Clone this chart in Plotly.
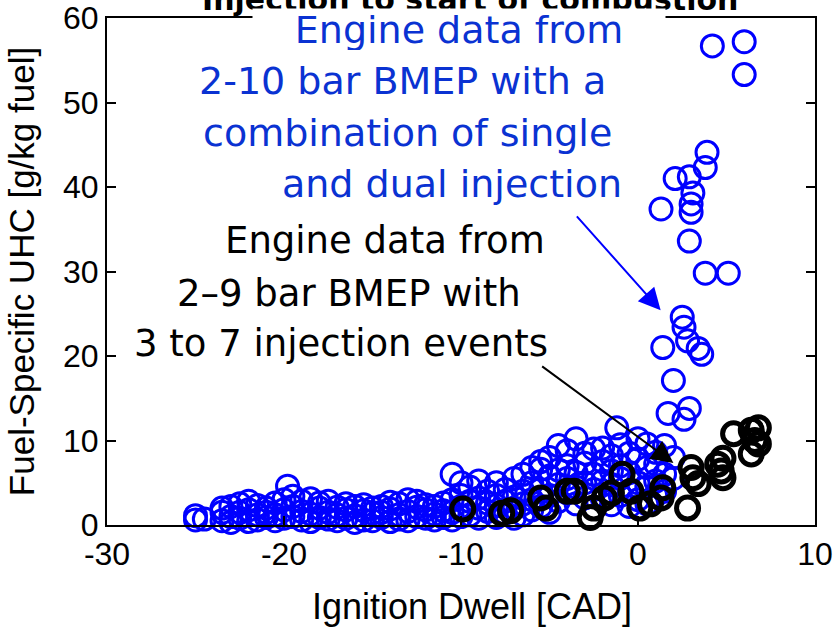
import plotly.graph_objects as go

# ---- data ----
blue_x = [
    -25.0, -25.0, -24.5, -23.5, -23.5, -23.5, -23.0, -23.0, -23.0, -22.5, -22.5, -22.5,
    -22.0, -22.0, -22.0, -21.5, -21.5, -21.5, -21.0, -21.0, -21.0, -20.5, -20.5, -20.5,
    -20.0, -20.0, -20.0, -19.8, -19.5, -19.5, -19.5, -19.0, -19.0, -19.0, -18.5, -18.5, -18.5,
    -18.0, -18.0, -18.0, -17.5, -17.5, -17.5, -17.0, -17.0, -17.0, -16.5, -16.5, -16.5,
    -16.0, -16.0, -16.0, -15.5, -15.5, -15.5, -15.0, -15.0, -15.0, -14.5, -14.5, -14.5,
    -14.0, -14.0, -14.0, -13.5, -13.5, -13.5, -13.0, -13.0, -13.0, -12.5, -12.5, -12.5,
    -12.0, -12.0, -12.0, -11.5, -11.5, -11.5, -11.0, -11.0, -11.0,
    -10.5, -10.5, -10.5, -10.5, -10.0, -10.0, -10.0, -10.0, -9.5, -9.5, -9.5,
    -9.0, -9.0, -9.0, -9.0, -8.5, -8.5, -8.5, -8.0, -8.0, -8.0, -8.0, -7.5, -7.5, -7.5,
    -7.0, -7.0, -7.0, -7.0, -6.5, -6.5, -6.5, -6.5, -6.0, -6.0, -6.0, -6.0,
    -5.5, -5.5, -5.5, -5.5, -5.0, -5.0, -5.0, -5.0, -4.5, -4.5, -4.5, -4.5,
    -4.0, -4.0, -4.0, -4.0, -3.5, -3.5, -3.5, -3.5, -3.0, -3.0, -3.0, -3.0,
    -2.5, -2.5, -2.5, -2.5, -2.0, -2.0, -2.0, -2.0, -1.5, -1.5, -1.5, -1.5,
    -1.0, -1.0, -1.0, -1.0, -0.5, -0.5, -0.5, -0.5, 0.0, 0.0, 0.0, 0.0,
    0.5, 0.5, 0.5, 0.5, 1.0, 1.0, 1.0, 1.0, 1.5, 1.5, 1.5, 2.0, 2.0,
    -1.2, 4.2, 6.0, 6.0, 3.9, 3.8, 2.1, 2.9, 3.1, 3.0, 3.0, 1.3, 2.9, 3.8, 5.1,
    2.5, 2.6, 2.8, 1.4, 3.4, 3.6, 2.0, 1.7, 2.9, 2.6,
]
blue_y = [
    1.1, 0.6, 0.7, 1.5, 0.5, 2.0, 1.0, 2.2, 0.3, 1.5, 0.8, 2.5,
    0.4, 1.8, 2.8, 1.2, 0.6, 2.3, 2.0, 0.9, 1.5, 0.5, 2.6, 1.2,
    1.8, 3.0, 0.8, 4.6, 2.2, 1.0, 3.4, 0.6, 2.8, 1.6, 1.3, 3.1, 0.4,
    2.0, 0.9, 2.6, 1.5, 2.8, 0.7, 0.5, 2.1, 1.2, 1.8, 0.8, 2.5,
    1.1, 2.2, 0.3, 0.6, 1.7, 2.4, 1.4, 0.5, 2.0, 2.2, 0.9, 1.5,
    0.4, 1.9, 2.7, 1.2, 2.5, 0.7, 1.6, 0.5, 3.0, 2.1, 1.0, 2.8,
    0.8, 1.8, 2.4, 1.3, 0.6, 2.2, 0.9, 2.6, 1.7,
    1.5, 3.0, 0.6, 6.0, 2.2, 1.0, 3.5, 5.0, 1.2, 2.8, 4.5,
    0.8, 3.2, 2.0, 5.2, 1.6, 4.0, 2.6, 2.3, 0.9, 3.5, 5.0, 1.4, 4.2, 2.8,
    2.0, 5.5, 3.3, 0.8, 6.0, 2.5, 4.0, 1.2, 3.0, 5.0, 1.8, 6.8,
    6.6, 4.2, 2.2, 7.5, 3.5, 5.8, 1.5, 8.0, 9.4, 4.8, 2.8, 6.5,
    3.8, 7.0, 5.5, 8.8, 10.2, 4.5, 6.2, 2.5, 8.5, 5.0, 3.2, 7.3,
    9.0, 6.0, 4.2, 2.0, 9.1, 7.5, 5.2, 3.0, 8.2, 6.4, 4.8, 2.4,
    9.5, 7.0, 5.5, 3.5, 8.5, 6.2, 4.0, 2.2, 10.2, 7.8, 5.0, 3.0,
    9.6, 6.8, 4.5, 2.5, 8.6, 7.2, 5.2, 3.5, 9.4, 6.0, 4.0, 8.0, 5.5,
    11.5, 56.7, 57.2, 53.3, 44.1, 42.3, 41.0, 41.2, 39.3, 38.0, 37.0, 37.4, 33.6, 29.8, 29.8,
    24.6, 23.4, 21.8, 21.0, 20.9, 20.2, 17.1, 13.2, 13.8, 12.5,
]

black_x = [-9.9, -7.7, -7.2, -5.5, -5.2, -4.0, -3.6, -2.7, -2.5, -1.9, -1.5, -0.9,
           -0.4, 0.1, 0.7, 1.3, 1.4, 2.8, 3.0, 3.1, 3.4, 4.5, 4.7, 4.8, 4.8,
           5.4, 6.4, 6.8, 6.8, 6.4, 6.6]
black_y = [1.9, 1.4, 1.7, 3.2, 2.0, 4.0, 4.0, 0.9, 2.0, 3.2, 3.8, 6.0,
           4.0, 2.0, 2.5, 3.2, 4.4, 2.0, 6.8, 5.6, 4.9, 7.2, 6.4, 5.6, 7.9,
           10.8, 11.2, 11.5, 9.6, 8.4, 10.0]

x_ticks = [-30, -20, -10, 0, 10]
x_tick_text = ["-30", "-20", "-10", "0", "10"]
y_ticks = [0, 10, 20, 30, 40, 50, 60]
y_tick_text = ["0", "10", "20", "30", "40", "50", "60"]

blue_lines = ["Engine data from", "2-10 bar BMEP with a", "combination of single", "and dual injection"]
blue_line_x = [-10.1, -13.3, -13.0, -10.5]
blue_line_y = [58.6, 52.6, 46.4, 40.4]
black_lines = ["Engine data from", "2\u20139 bar BMEP with", "3 to 7 injection events"]
black_line_x = [-14.3, -16.3, -16.8]
black_line_y = [33.7, 27.4, 21.5]

BLUE = "#0000ff"
TEXT_BLUE = "#0a32d2"
TXT_FONT = "Tahoma, DejaVu Sans, sans-serif"
AX_FONT = "Liberation Sans, Arial, sans-serif"

fig = go.Figure()
fig.add_trace(go.Scatter(
    x=blue_x, y=blue_y, mode="markers", cliponaxis=False,
    marker=dict(symbol="circle-open", size=22, color=BLUE, line=dict(width=3, color=BLUE)),
    showlegend=False, hoverinfo="skip"))
fig.add_trace(go.Scatter(
    x=black_x, y=black_y, mode="markers", cliponaxis=False,
    marker=dict(symbol="circle-open", size=22, color="black", line=dict(width=5, color="black")),
    showlegend=False, hoverinfo="skip"))

annotations = []
# clipped title (drawn first so the blue text box sits over it like in the original)
annotations.append(dict(x=0.513, y=1.037, xref="paper", yref="paper", text="<b>Injection to start of combustion</b>",
                        showarrow=False, xanchor="center", yanchor="middle",
                        font=dict(family=TXT_FONT, size=30, color="black")))
for i, (t, x, y) in enumerate(zip(blue_lines, blue_line_x, blue_line_y)):
    extra = dict(bgcolor="white", width=410, height=40, align="center") if i == 0 else {}
    annotations.append(dict(x=x, y=y, xref="x", yref="y", text=t, showarrow=False,
                            xanchor="center", yanchor="middle",
                            font=dict(family=TXT_FONT, size=38, color=TEXT_BLUE), **extra))
for t, x, y in zip(black_lines, black_line_x, black_line_y):
    annotations.append(dict(x=x, y=y, xref="x", yref="y", text=t, showarrow=False,
                            xanchor="center", yanchor="middle",
                            font=dict(family=TXT_FONT, size=37, color="black")))
# arrows
annotations.append(dict(x=1.28, y=25.4, ax=-3.53, ay=36.7, xref="x", yref="y", axref="x", ayref="y",
                        text="", showarrow=True, arrowhead=2, arrowsize=2.2, arrowwidth=2,
                        arrowcolor=BLUE))
annotations.append(dict(x=2.0, y=7.35, ax=-5.5, ay=18.9, xref="x", yref="y", axref="x", ayref="y",
                        text="", showarrow=True, arrowhead=2, arrowsize=2.2, arrowwidth=2,
                        arrowcolor="black"))
# x-axis title (slightly right of centre, as in the original)
annotations.append(dict(x=0.5155, y=-0.16, xref="paper", yref="paper", text="Ignition Dwell [CAD]",
                        showarrow=False, xanchor="center", yanchor="middle",
                        font=dict(family=AX_FONT, size=36, color="black")))

axis_common = dict(showline=True, linecolor="black", linewidth=2, mirror="ticks",
                   ticks="inside", ticklen=9, tickwidth=2, tickcolor="black",
                   showgrid=False, zeroline=False, automargin=False,
                   tickfont=dict(family=AX_FONT, size=32, color="black"))

fig.update_layout(
    width=836, height=628,
    margin=dict(l=107, r=21, t=18, b=103),
    paper_bgcolor="white", plot_bgcolor="white",
    xaxis=dict(range=[-30, 10], tickvals=x_ticks, ticktext=x_tick_text, **axis_common),
    yaxis=dict(range=[0, 60], tickvals=y_ticks, ticktext=y_tick_text,
               title=dict(text="Fuel-Specific UHC [g/kg fuel]", font=dict(family=AX_FONT, size=35, color="black"), standoff=18),
               **axis_common),
    annotations=annotations,
)

fig.write_html("out.html")
